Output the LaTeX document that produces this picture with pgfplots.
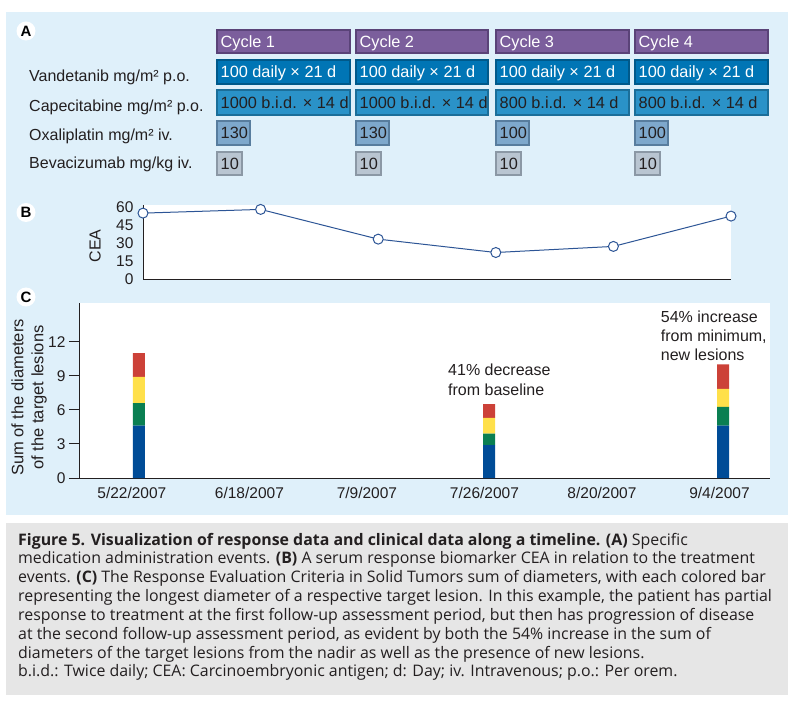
\documentclass[border=0pt]{standalone}
\usepackage{pgfplots}
\pgfplotsset{compat=1.18}
\usepackage{fontspec}
\setmainfont{Liberation Sans}
\newfontfamily\capfont{Open Sans}

\definecolor{panelbg}{HTML}{DFF0FA}
\definecolor{capbg}{HTML}{E6E6E6}
\definecolor{cycfill}{HTML}{7B5E9C}
\definecolor{cycedge}{HTML}{5A4378}
\definecolor{vanfill}{HTML}{0075B5}
\definecolor{vanedge}{HTML}{00598A}
\definecolor{capfill}{HTML}{2A92C8}
\definecolor{capedge}{HTML}{1B6E99}
\definecolor{oxafill}{HTML}{7EA8CC}
\definecolor{oxaedge}{HTML}{587D9E}
\definecolor{bevfill}{HTML}{B9C5D1}
\definecolor{bevedge}{HTML}{8B98A5}
\definecolor{ceablue}{HTML}{2D5596}
\definecolor{lesblue}{HTML}{004C97}
\definecolor{lesgreen}{HTML}{0A7F52}
\definecolor{lesyellow}{HTML}{FFE04A}
\definecolor{lesred}{HTML}{CC4138}
\definecolor{txt}{HTML}{231F20}

\newcommand\lbl{\fontsize{16}{19}\selectfont}
\newcommand\bxf{\fontsize{16.3}{19}\selectfont}
\newcommand\capf{\capfont\fontsize{15.9}{18}\selectfont}
% x1 y1 x2 y2 fill edge textcolour text
\newcommand\tbox[8]{%
  \filldraw[fill=#5,draw=#6,line width=2pt] (axis cs:{#1+1},{#2+1}) rectangle (axis cs:{#3-1},{#4-1});
  \node[anchor=base west,inner sep=0pt,text=#7,font=\bxf] at (axis cs:{#1+4.5},{(#2+#4)/2+5.5}) {#8};}
% panel letter in a white disc, page pixels (y downwards)
\newcommand\plabel[2]{%
  \fill[white] (26pt,{702pt-#2pt}) circle (9.5pt);
  \node[inner sep=0pt,text=black,font=\bfseries\fontsize{15}{15}\selectfont] at (26pt,{702pt-#2pt}) {#1};}

\begin{document}
\begin{tikzpicture}
% canvas: panels, panel A, caption (pixel coordinates, y downwards)
\begin{axis}[at={(0pt,0pt)},anchor=south west,scale only axis,
  width=794pt,height=702pt,xmin=0,xmax=794,ymin=0,ymax=702,
  y dir=reverse,hide axis,clip=false]
\addplot[draw=none] coordinates {(0,0)};
\fill[white] (axis cs:0,0) rectangle (axis cs:794,702);
\fill[panelbg] (axis cs:6,12) rectangle (axis cs:788,515);
\fill[capbg] (axis cs:6,523) rectangle (axis cs:788,695);

% row labels
\node[anchor=base west,inner sep=0pt,text=txt,font=\lbl] at (axis cs:29,81.5) {Vandetanib mg/m² p.o.};
\node[anchor=base west,inner sep=0pt,text=txt,font=\lbl] at (axis cs:29,111.5) {Capecitabine mg/m² p.o.};
\node[anchor=base west,inner sep=0pt,text=txt,font=\lbl] at (axis cs:29,140) {Oxaliplatin mg/m² iv.};
\node[anchor=base west,inner sep=0pt,text=txt,font=\lbl] at (axis cs:29,168.5) {Bevacizumab mg/kg iv.};

% cycles
\tbox{216}{29}{351}{54}{cycfill}{cycedge}{white}{Cycle 1}
\tbox{355}{29}{489}{54}{cycfill}{cycedge}{white}{Cycle 2}
\tbox{495}{29}{630}{54}{cycfill}{cycedge}{white}{Cycle 3}
\tbox{634}{29}{769}{54}{cycfill}{cycedge}{white}{Cycle 4}
% vandetanib
\tbox{216}{59}{351}{85}{vanfill}{vanedge}{white}{100 daily × 21 d}
\tbox{355}{59}{489}{85}{vanfill}{vanedge}{white}{100 daily × 21 d}
\tbox{495}{59}{630}{85}{vanfill}{vanedge}{white}{100 daily × 21 d}
\tbox{634}{59}{769}{85}{vanfill}{vanedge}{white}{100 daily × 21 d}
% capecitabine
\tbox{216}{89}{351}{116}{capfill}{capedge}{txt}{1000 b.i.d. × 14 d}
\tbox{355}{89}{489}{116}{capfill}{capedge}{txt}{1000 b.i.d. × 14 d}
\tbox{495}{89}{630}{116}{capfill}{capedge}{txt}{800 b.i.d. × 14 d}
\tbox{634}{89}{769}{116}{capfill}{capedge}{txt}{800 b.i.d. × 14 d}
% oxaliplatin
\tbox{216}{120}{251}{146}{oxafill}{oxaedge}{txt}{130}
\tbox{355}{120}{390}{146}{oxafill}{oxaedge}{txt}{130}
\tbox{495}{120}{530}{146}{oxafill}{oxaedge}{txt}{100}
\tbox{634}{120}{669}{146}{oxafill}{oxaedge}{txt}{100}
% bevacizumab
\tbox{216}{151}{243}{176}{bevfill}{bevedge}{txt}{10}
\tbox{355}{151}{382}{176}{bevfill}{bevedge}{txt}{10}
\tbox{495}{151}{522}{176}{bevfill}{bevedge}{txt}{10}
\tbox{634}{151}{661}{176}{bevfill}{bevedge}{txt}{10}

% axis titles of B and C
\node[rotate=90,inner sep=0pt,text=txt,font=\fontsize{16}{16}\selectfont] at (axis cs:95,246) {CEA};
\node[rotate=90,inner sep=0pt,text=txt,align=center,font=\fontsize{16.5}{20}\selectfont] at (axis cs:29,397.5)
  {Sum of the diameters\\of the target lesions};

% caption
\node[anchor=base west,inner sep=0pt,text=txt,font=\capf] at (axis cs:18,545) {\textbf{Figure 5. Visualization of response data and clinical data along a timeline. (A)} Specific};
\node[anchor=base west,inner sep=0pt,text=txt,font=\capf] at (axis cs:18,563.85) {medication administration events. \textbf{(B)} A serum response biomarker CEA in relation to the treatment};
\node[anchor=base west,inner sep=0pt,text=txt,font=\capf] at (axis cs:18,582.7) {events. \textbf{(C)} The Response Evaluation Criteria in Solid Tumors sum of diameters, with each colored bar};
\node[anchor=base west,inner sep=0pt,text=txt,font=\capf] at (axis cs:18,601.55) {representing the longest diameter of a respective target lesion. In this example, the patient has partial};
\node[anchor=base west,inner sep=0pt,text=txt,font=\capf] at (axis cs:18,620.4) {response to treatment at the first follow-up assessment period, but then has progression of disease};
\node[anchor=base west,inner sep=0pt,text=txt,font=\capf] at (axis cs:18,639.25) {at the second follow-up assessment period, as evident by both the 54\% increase in the sum of};
\node[anchor=base west,inner sep=0pt,text=txt,font=\capf] at (axis cs:18,658.1) {diameters of the target lesions from the nadir as well as the presence of new lesions.};
\node[anchor=base west,inner sep=0pt,text=txt,font=\capf] at (axis cs:18,676.95) {b.i.d.: Twice daily; CEA: Carcinoembryonic antigen; d: Day; iv. Intravenous; p.o.: Per orem.};
\end{axis}

% B: CEA
\begin{axis}[at={(143pt,423pt)},anchor=south west,scale only axis,
  width=588pt,height=74pt,xmin=0,xmax=5,ymin=0,ymax=62,
  axis x line=bottom,axis y line=left,
  axis line style={-,draw=txt,line width=0.9pt},
  axis background/.style={fill=white},
  xtick=\empty,ytick={0,15,30,45,60},major tick length=0pt,
  /pgf/number format/assume math mode=true,
  yticklabel style={font=\fontsize{15.5}{16}\selectfont,text=txt,xshift=-6pt},
  clip=false]
\addplot[ceablue,line width=1pt,mark=*,mark size=5pt,
  mark options={fill=white,draw=ceablue,line width=1pt}]
  coordinates {(0,55.2) (1,58.3) (2,33.4) (3,22.2) (4,27.3) (5,52.7)};
\end{axis}

% C: sum of diameters
\begin{axis}[at={(79pt,224pt)},anchor=south west,scale only axis,
  width=691pt,height=175pt,xmin=-0.45,xmax=5.43,ymin=0,ymax=15.4,
  axis x line=bottom,axis y line=left,
  axis line style={-,draw=txt,line width=0.9pt},
  axis background/.style={fill=white},
  ybar stacked,bar width=12pt,
  xtick={0,1,2,3,4,5},
  xticklabels={5/22/2007,6/18/2007,7/9/2007,7/26/2007,8/20/2007,9/4/2007},
  ytick={0,3,6,9,12},tick align=outside,major tick length=10pt,
  xtick style={draw=none},ytick style={draw=txt,line width=0.9pt},
  /pgf/number format/assume math mode=true,
  xticklabel style={font=\fontsize{15.5}{16}\selectfont,text=txt,yshift=4pt},
  yticklabel style={font=\fontsize{15.5}{16}\selectfont,text=txt},
  clip=false]
\addplot[fill=lesblue,draw=none] coordinates {(0.06,4.6) (3.04,2.9) (5.03,4.6)};
\addplot[fill=lesgreen,draw=none] coordinates {(0.06,2.0) (3.04,1.0) (5.03,1.65)};
\addplot[fill=lesyellow,draw=none] coordinates {(0.06,2.3) (3.04,1.4) (5.03,1.6)};
\addplot[fill=lesred,draw=none] coordinates {(0.06,2.1) (3.04,1.2) (5.03,2.15)};
\node[anchor=base west,inner sep=0pt,text=txt,font=\lbl] at (axis cs:2.69,8.98) {41\% decrease};
\node[anchor=base west,inner sep=0pt,text=txt,font=\lbl] at (axis cs:2.69,7.26) {from baseline};
\node[anchor=base west,inner sep=0pt,text=txt,font=\lbl] at (axis cs:4.50,13.70) {54\% increase};
\node[anchor=base west,inner sep=0pt,text=txt,font=\lbl] at (axis cs:4.50,11.99) {from minimum,};
\node[anchor=base west,inner sep=0pt,text=txt,font=\lbl] at (axis cs:4.50,10.30) {new lesions};
\end{axis}

% panel letters
\plabel{A}{31}
\plabel{B}{212.5}
\plabel{C}{297}

\pgfresetboundingbox
\useasboundingbox (0pt,0pt) rectangle (794pt,702pt);
\end{tikzpicture}
\end{document}
